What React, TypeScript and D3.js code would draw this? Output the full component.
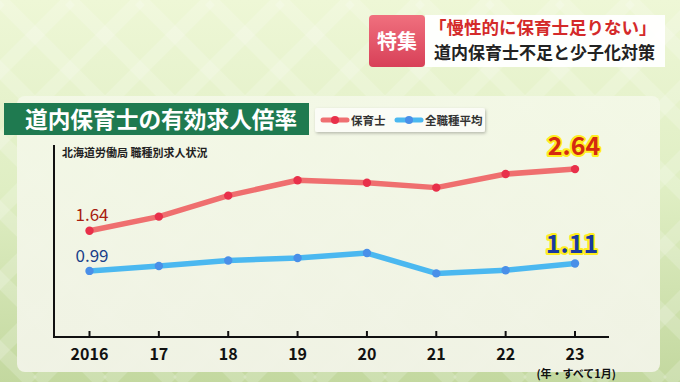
import React from "react";
import * as d3 from "d3";

const years = ["2016", "17", "18", "19", "20", "21", "22", "23"];
const hoikushi = [1.64, 1.87, 2.21, 2.46, 2.42, 2.34, 2.56, 2.64];
const zenshokushu = [0.99, 1.07, 1.16, 1.2, 1.28, 0.95, 1.0, 1.11];
const seriesNames = ["保育士", "全職種平均"];

const W = 680;
const H = 382;
const JP = "'Noto Sans CJK JP', 'Noto Sans', sans-serif";

export default function App() {
  const x = d3.scaleLinear().domain([0, years.length - 1]).range([89.5, 575]);
  const y = d3.scaleLinear().domain([0, 3]).range([332, 146.9]);
  const line = d3
    .line<number>()
    .x((_, i) => x(i))
    .y((d) => y(d));

  const axisY = 337;
  const axisX = 54;

  const diamonds: JSX.Element[] = [];
  for (let k = -20; k < 40; k++) {
    const c = k * 70;
    diamonds.push(
      <line key={"a" + k} x1={c} y1={0} x2={c + H} y2={H} stroke="#ffffff" strokeOpacity={0.18} strokeWidth={14} />
    );
    diamonds.push(
      <line key={"b" + k} x1={c} y1={0} x2={c - H} y2={H} stroke="#ffffff" strokeOpacity={0.18} strokeWidth={14} />
    );
  }

  return (
    <div style={{ position: "absolute", left: 0, top: 0, width: W, height: H }}>
      <svg width={W} height={H} style={{ display: "block" }}>
        <defs>
          <linearGradient id="bg" x1="0" y1="0" x2="0" y2="1">
            <stop offset="0" stopColor="#eef7d6" />
            <stop offset="0.5" stopColor="#dfeec3" />
            <stop offset="1" stopColor="#c3d89f" />
          </linearGradient>
          <linearGradient id="panel" x1="0" y1="0" x2="0" y2="1">
            <stop offset="0" stopColor="#f3f8e6" />
            <stop offset="1" stopColor="#f1f3e6" />
          </linearGradient>
          <linearGradient id="pink" x1="0" y1="0" x2="0" y2="1">
            <stop offset="0" stopColor="#f0707e" />
            <stop offset="1" stopColor="#d84058" />
          </linearGradient>
          <filter id="sh" x="-10%" y="-10%" width="120%" height="130%">
            <feDropShadow dx="1" dy="1.5" stdDeviation="1.5" floodColor="#000" floodOpacity="0.25" />
          </filter>
        </defs>
        <rect width={W} height={H} fill="url(#bg)" />
        <g>{diamonds}</g>

        {/* main panel */}
        <rect x={17} y={96} width={643} height={276} rx={8} fill="url(#panel)" opacity={0.97} />

        {/* top-right title */}
        <rect x={369} y={15} width={56} height={52} rx={4} fill="url(#pink)" />
        <rect x={425} y={15} width={240} height={52} fill="#ffffff" opacity={0.95} />
        <text x={397} y={49} textAnchor="middle" fontFamily={JP} fontWeight={700} fontSize={20} fill="#ffffff">
          特集
        </text>
        <text x={429} y={34} fontFamily={JP} fontWeight={700} fontSize={17.5} fill="#d42a2a">
          「慢性的に保育士足りない」
        </text>
        <text x={434} y={59} fontFamily={JP} fontWeight={700} fontSize={17} fill="#222222">
          道内保育士不足と少子化対策
        </text>

        {/* chart title banner */}
        <rect x={4} y={103} width={305} height={32} fill="#1f7a50" />
        <text x={25} y={127.5} fontFamily={JP} fontWeight={700} fontSize={22.7} fill="#ffffff">
          道内保育士の有効求人倍率
        </text>

        {/* legend */}
        <rect x={315} y={108} width={170} height={24} rx={2} fill="#fbfcf6" filter="url(#sh)" />
        <line x1={323} y1={120} x2={347} y2={120} stroke="#ef6f72" strokeWidth={5} strokeLinecap="round" />
        <circle cx={335} cy={120} r={4} fill="#e8304a" />
        <text x={351} y={124.5} fontFamily={JP} fontWeight={700} fontSize={11.5} fill="#333">
          {seriesNames[0]}
        </text>
        <line x1={397} y1={120} x2={421} y2={120} stroke="#4bb8f0" strokeWidth={5} strokeLinecap="round" />
        <circle cx={409} cy={120} r={4} fill="#4a8fe8" />
        <text x={425} y={124.5} fontFamily={JP} fontWeight={700} fontSize={11.5} fill="#333">
          {seriesNames[1]}
        </text>

        {/* source */}
        <text x={62} y={157} fontFamily={JP} fontWeight={700} fontSize={11} fill="#222">
          北海道労働局 職種別求人状況
        </text>

        {/* axes */}
        <line x1={axisX} y1={145} x2={axisX} y2={axisY + 1} stroke="#111" strokeWidth={2} />
        <line x1={axisX - 1} y1={axisY} x2={609} y2={axisY} stroke="#111" strokeWidth={2} />
        {years.map((yr, i) => (
          <g key={yr}>
            <line x1={x(i)} y1={axisY} x2={x(i)} y2={axisY - 6} stroke="#111" strokeWidth={2} />
            <text
              x={x(i)}
              y={360}
              textAnchor="middle"
              fontFamily={JP}
              fontWeight={700}
              fontSize={16}
              fill="#111"
            >
              {yr}
            </text>
          </g>
        ))}
        <text x={616} y={378} textAnchor="end" fontFamily={JP} fontWeight={700} fontSize={11} fill="#111">
          (年・すべて1月)
        </text>

        {/* lines */}
        <path d={line(hoikushi) || ""} fill="none" stroke="#ef6f6f" strokeWidth={5.5} strokeLinejoin="round" />
        <path d={line(zenshokushu) || ""} fill="none" stroke="#4bb8f0" strokeWidth={5.5} strokeLinejoin="round" />
        {hoikushi.map((v, i) => (
          <circle key={"r" + i} cx={x(i)} cy={y(v)} r={4.2} fill="#e8304a" />
        ))}
        {zenshokushu.map((v, i) => (
          <circle key={"b" + i} cx={x(i)} cy={y(v)} r={4.2} fill="#4a8fe8" />
        ))}

        {/* value labels */}
        <text x={x(0) - 14} y={y(hoikushi[0]) - 10} fontFamily={JP} fontSize={17} fill="#a82010">
          {hoikushi[0].toFixed(2)}
        </text>
        <text x={x(0) - 14} y={y(zenshokushu[0]) - 9} fontFamily={JP} fontSize={17} fill="#1a3f8a">
          {zenshokushu[0].toFixed(2)}
        </text>
        <text
          x={x(7) - 1}
          y={y(hoikushi[7]) - 14}
          textAnchor="middle"
          fontFamily={JP}
          fontWeight={700}
          fontSize={25}
          fill="#d42a10"
          stroke="#ffee20"
          strokeWidth={4}
          paintOrder="stroke"
          strokeLinejoin="round"
        >
          {hoikushi[7].toFixed(2)}
        </text>
        <text
          x={x(7) - 3}
          y={y(zenshokushu[7]) - 11}
          textAnchor="middle"
          fontFamily={JP}
          fontWeight={700}
          fontSize={25}
          fill="#1a3aa0"
          stroke="#ffee20"
          strokeWidth={4}
          paintOrder="stroke"
          strokeLinejoin="round"
        >
          {zenshokushu[7].toFixed(2)}
        </text>
      </svg>
    </div>
  );
}
